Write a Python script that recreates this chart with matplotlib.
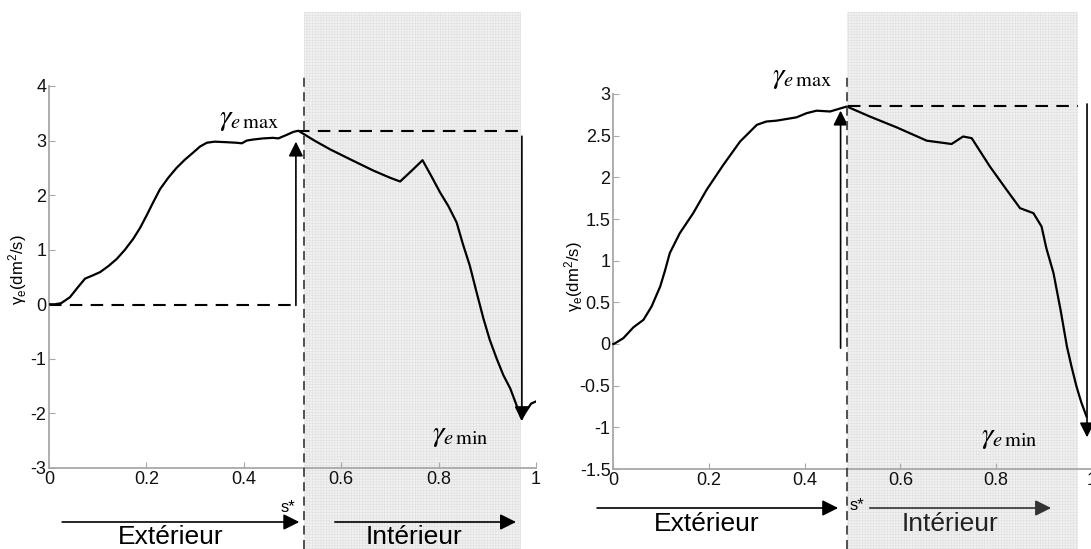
import matplotlib
matplotlib.use("Agg")
import matplotlib.pyplot as plt
from matplotlib.patches import Rectangle
from matplotlib.lines import Line2D
from matplotlib.transforms import blended_transform_factory
from matplotlib.ticker import FuncFormatter

plt.rcParams['font.family'] = ['Liberation Sans', 'DejaVu Sans']
plt.rcParams['mathtext.fontset'] = 'stix'
plt.rcParams['axes.unicode_minus'] = False
plt.rcParams['hatch.linewidth'] = 0.4

# ---- data ----
# left panel: gamma_e along the curvilinear abscissa s
s_left = [0.0, 0.012, 0.025, 0.043, 0.06, 0.074, 0.09, 0.105, 0.122, 0.139,
          0.156, 0.173, 0.187, 0.2, 0.214, 0.228, 0.245, 0.262, 0.279, 0.296,
          0.31, 0.324, 0.34, 0.365, 0.385, 0.396, 0.406, 0.42, 0.44, 0.46,
          0.471, 0.487, 0.502, 0.512, 0.545, 0.577, 0.62, 0.666, 0.70, 0.721,
          0.745, 0.767, 0.785, 0.803, 0.82, 0.837, 0.85, 0.864, 0.878, 0.892,
          0.905, 0.919, 0.933, 0.947, 0.958, 0.970, 0.978, 0.99, 1.0]
g_left = [0.0, 0.0, 0.02, 0.13, 0.32, 0.47, 0.53, 0.59, 0.7, 0.83,
          1.0, 1.2, 1.4, 1.62, 1.87, 2.11, 2.32, 2.5, 2.65, 2.78,
          2.89, 2.96, 2.98, 2.97, 2.96, 2.95, 3.0, 3.02, 3.04, 3.05,
          3.04, 3.1, 3.16, 3.18, 3.0, 2.84, 2.65, 2.45, 2.32, 2.25,
          2.45, 2.64, 2.35, 2.05, 1.8, 1.5, 1.1, 0.71, 0.22, -0.26,
          -0.65, -0.99, -1.3, -1.54, -1.8, -2.09, -1.98, -1.82, -1.78]

# right panel
s_right = [0.0, 0.004, 0.021, 0.042, 0.063, 0.08, 0.098, 0.108, 0.118, 0.139,
           0.167, 0.195, 0.23, 0.265, 0.30, 0.32, 0.341, 0.383, 0.404, 0.425,
           0.453, 0.488, 0.536, 0.592, 0.655, 0.707, 0.731, 0.749, 0.787,
           0.822, 0.85, 0.878, 0.895, 0.905, 0.92, 0.935, 0.948, 0.958,
           0.968, 0.978, 0.989]
g_right = [0.0, 0.01, 0.07, 0.2, 0.29, 0.45, 0.69, 0.88, 1.09, 1.33,
           1.57, 1.85, 2.15, 2.43, 2.63, 2.67, 2.68, 2.72, 2.77, 2.80,
           2.79, 2.85, 2.73, 2.6, 2.44, 2.40, 2.49, 2.47, 2.13,
           1.85, 1.63, 1.57, 1.41, 1.15, 0.85, 0.4, -0.03, -0.28,
           -0.51, -0.7, -0.87]

s_star_left, s_star_right = 0.524, 0.488
shade_end_left, shade_end_right = 0.969, 0.972

gmax_left, gzero_left, gmin_left = 3.17, -0.02, -2.14
arrow_up_x_left, arrow_down_x_left = 0.507, 0.971
gmax_right, gmin_right = 2.86, -1.12
arrow_up_x_right, arrow_down_x_right = 0.475, 0.99
arrow_up_from_right = -0.05

yticks_left = [-3, -2, -1, 0, 1, 2, 3, 4]
yticks_right = [-1.5, -1, -0.5, 0, 0.5, 1, 1.5, 2, 2.5, 3]
xticks = [0, 0.2, 0.4, 0.6, 0.8, 1]

W, H = 1091, 549
fig = plt.figure(figsize=(W / 100, H / 100), dpi=100)
ax1 = fig.add_axes([49 / W, 1 - 468 / H, 487 / W, 382 / H])
ax2 = fig.add_axes([613.3 / W, 1 - 469 / H, 478.5 / W, 375 / H])


def style_axes(ax, ylim, yticks):
    ax.set_xlim(0, 1)
    ax.set_ylim(*ylim)
    ax.set_xticks(xticks)
    ax.set_yticks(yticks)
    fmt = FuncFormatter(lambda v, p: '%g' % v)
    ax.xaxis.set_major_formatter(fmt)
    ax.yaxis.set_major_formatter(fmt)
    for side in ['top', 'right']:
        ax.spines[side].set_visible(False)
    for side in ['left', 'bottom']:
        ax.spines[side].set_color('#a8a8a8')
        ax.spines[side].set_linewidth(1.3)
    ax.tick_params(direction='in', length=4, width=0.8, color='#a8a8a8',
                   labelsize=13, labelcolor='#111111', pad=2)
    ax.patch.set_alpha(0)


def shade(ax, x0, x1):
    trans = blended_transform_factory(ax.transData, fig.transFigure)
    rect = Rectangle((x0, 0), x1 - x0, 1 - 12 / H, transform=trans,
                     facecolor='#f1f1f1', edgecolor='#e0e0e0', hatch='++++++',
                     lw=0, clip_on=False, zorder=0)
    fig.add_artist(rect)
    line = Line2D([x0, x0], [0, 1 - 73 / H], transform=trans, color='#444444',
                  lw=1.3, dashes=(5, 3), clip_on=False, zorder=1)
    fig.add_artist(line)


def vert_arrow(ax, x, y0, y1):
    ax.annotate('', xy=(x, y1), xytext=(x, y0), annotation_clip=False,
                arrowprops=dict(arrowstyle='-|>', mutation_scale=22, lw=1.2,
                                color='k', shrinkA=0, shrinkB=0))


def bottom_arrow(ax, x0, x1, y, color='k'):
    ax.annotate('', xy=(x1, y), xytext=(x0, y), annotation_clip=False,
                xycoords=('data', 'figure fraction'),
                textcoords=('data', 'figure fraction'),
                arrowprops=dict(arrowstyle='-|>', mutation_scale=24, lw=1.2,
                                color=color, shrinkA=0, shrinkB=0))


# ---- left panel ----
shade(ax1, s_star_left, shade_end_left)
style_axes(ax1, (-3, 4), yticks_left)
ax1.plot(s_left, g_left, color='k', lw=1.6, zorder=5,
         solid_joinstyle='round')
ax1.plot([0, arrow_up_x_left - 0.01], [gzero_left, gzero_left], color='k',
         lw=1.5, dashes=(6, 4))
ax1.plot([0.51, 0.977], [gmax_left, gmax_left], color='k', lw=1.5,
         dashes=(6, 4), clip_on=False)
vert_arrow(ax1, arrow_up_x_left, gzero_left, 2.98)
vert_arrow(ax1, arrow_down_x_left, 3.08, gmin_left)
ax1.text(0.41, 3.4, r'$\gamma_{e\,\max}$', fontsize=21, ha='center',
         va='center')
ax1.text(0.845, -2.4, r'$\gamma_{e\,\min}$', fontsize=21, ha='center',
         va='center')
fig.text(18 / W, 1 - 270 / H, r'$\mathregular{\gamma_e(dm^2/s)}$',
         rotation=90, fontsize=12, ha='center', va='center')

y_arr = 1 - 522 / H
bottom_arrow(ax1, 0.027, s_star_left - 0.01, y_arr)
bottom_arrow(ax1, 0.587, 0.959, y_arr)
ax1.text(s_star_left - 0.033, 1 - 507 / H, 's*', fontsize=12,
         transform=blended_transform_factory(ax1.transData, fig.transFigure),
         ha='center', va='center')
fig.text(171 / W, 1 - 544 / H, 'Extérieur', fontsize=19, ha='center',
         va='baseline')
fig.text(414 / W, 1 - 544 / H, 'Intérieur', fontsize=19, ha='center',
         va='baseline')

# ---- right panel ----
shade(ax2, s_star_right, shade_end_right)
style_axes(ax2, (-1.5, 3), yticks_right)
ax2.plot(s_right, g_right, color='k', lw=1.6, zorder=5, clip_on=False,
         solid_joinstyle='round')
ax2.plot([0.49, 0.971], [gmax_right, gmax_right], color='k', lw=1.5,
         dashes=(6, 4), clip_on=False)
vert_arrow(ax2, arrow_up_x_right, arrow_up_from_right, 2.8)
vert_arrow(ax2, arrow_down_x_right, 2.88, gmin_right)
ax2.text(0.395, 3.2, r'$\gamma_{e\,\max}$', fontsize=21, ha='center',
         va='center', clip_on=False)
ax2.text(0.828, -1.12, r'$\gamma_{e\,\min}$', fontsize=21, ha='center',
         va='center')
fig.text(574 / W, 1 - 277 / H, r'$\mathregular{\gamma_e(dm^2/s)}$',
         rotation=90, fontsize=12, ha='center', va='center')

y_arr2 = 1 - 508 / H
bottom_arrow(ax2, -0.034, 0.47, y_arr2)
bottom_arrow(ax2, 0.536, 0.915, y_arr2, color='#333333')
ax2.text(s_star_right + 0.022, 1 - 505 / H, 's*', fontsize=12,
         transform=blended_transform_factory(ax2.transData, fig.transFigure),
         ha='center', va='center')
fig.text(707 / W, 1 - 531 / H, 'Extérieur', fontsize=19, ha='center',
         va='baseline')
fig.text(950 / W, 1 - 531 / H, 'Intérieur', fontsize=19, ha='center',
         va='baseline', color='#222222')

fig.savefig('out.png', dpi=100)
